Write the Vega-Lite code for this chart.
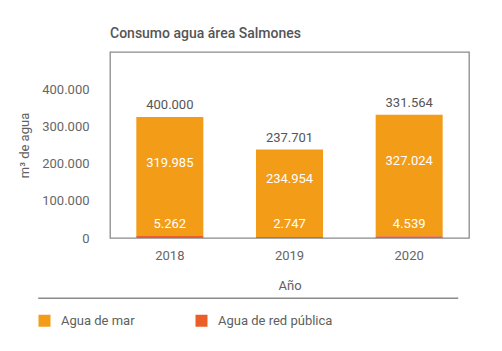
{
  "$schema": "https://vega.github.io/schema/vega-lite/v6.json",
  "padding": {"left": 18, "top": 27, "right": 5, "bottom": 5},
  "width": 359,
  "height": 186,
  "title": {"text": "Consumo agua área Salmones", "anchor": "start", "frame": "group", "font": "Roboto", "fontSize": 14, "fontWeight": 500, "color": "#555555", "offset": 11},
  "config": {
    "locale": {"number": {"decimal": ",", "thousands": ".", "grouping": [3], "currency": ["$", ""]}},
    "font": "Roboto",
    "view": {"stroke": "#8a8a8a", "strokeWidth": 1.3},
    "axis": {"labelFont": "Roboto", "titleFont": "Roboto", "labelFontSize": 13, "titleFontSize": 13, "labelColor": "#666666", "titleColor": "#606060", "titleFontWeight": "normal", "grid": false, "domain": false, "ticks": false},
    "legend": {"labelFont": "Roboto", "labelFontSize": 13, "labelColor": "#606060"}
  },
  "datasets": {
    "agua": [
      {"Año": "2018", "tipo": "Agua de mar", "valor": 319985},
      {"Año": "2018", "tipo": "Agua de red pública", "valor": 5262},
      {"Año": "2019", "tipo": "Agua de mar", "valor": 234954},
      {"Año": "2019", "tipo": "Agua de red pública", "valor": 2747},
      {"Año": "2020", "tipo": "Agua de mar", "valor": 327024},
      {"Año": "2020", "tipo": "Agua de red pública", "valor": 4539}
    ],
    "totales": [
      {"Año": "2018", "total": 325247, "rotulo": 400000},
      {"Año": "2019", "total": 237701, "rotulo": 237701},
      {"Año": "2020", "total": 331564, "rotulo": 331564}
    ],
    "separador": [
      {"desde": -0.2, "hasta": 0.97, "nivel": -162000}
    ]
  },
  "layer": [
    {
      "layer": [
        {
          "data": {"name": "agua"},
          "mark": {"type": "bar"},
          "encoding": {
            "x": {"field": "Año", "type": "nominal", "scale": {"paddingInner": 0.44, "paddingOuter": 0.22}, "axis": {"labelAngle": 0, "labelPadding": 11, "titlePadding": 17}},
            "y": {"field": "valor", "type": "quantitative", "stack": "zero", "scale": {"domain": [0, 465000]}, "axis": {"values": [0, 100000, 200000, 300000, 400000], "format": ",d", "title": "m³ de agua", "labelPadding": 21, "titlePadding": 10}},
            "color": {"field": "tipo", "type": "nominal", "scale": {"domain": ["Agua de mar", "Agua de red pública"], "range": ["#F39C18", "#EB5E28"]}, "legend": {"title": null, "orient": "none", "direction": "horizontal", "legendX": -72, "legendY": 262, "symbolType": "square", "symbolSize": 144, "symbolStrokeWidth": 0, "labelOffset": 10, "columnPadding": 60, "encode": {"symbols": {"update": {"fill": {"signal": "datum.value == 'Agua de mar' ? '#F9B04C' : '#EA5A24'"}, "opacity": {"value": 1}}}}}},
            "order": {"field": "tipo", "sort": "descending"}
          }
        },
        {
          "data": {"name": "agua"},
          "transform": [
            {"joinaggregate": [{"op": "sum", "field": "valor", "as": "suma"}], "groupby": ["Año"]},
            {"filter": "datum.tipo == 'Agua de mar'"},
            {"calculate": "datum.suma - datum.valor / 2", "as": "medio"}
          ],
          "mark": {"type": "text", "color": "white", "fontSize": 13, "baseline": "middle", "dy": -14},
          "encoding": {
            "x": {"field": "Año", "type": "nominal"},
            "y": {"field": "medio", "type": "quantitative"},
            "text": {"field": "valor", "type": "quantitative", "format": ",d"}
          }
        },
        {
          "data": {"name": "agua"},
          "transform": [{"filter": "datum.tipo == 'Agua de red pública'"}],
          "mark": {"type": "text", "color": "white", "fontSize": 13, "baseline": "middle", "dy": -14},
          "encoding": {
            "x": {"field": "Año", "type": "nominal"},
            "y": {"datum": 0},
            "text": {"field": "valor", "type": "quantitative", "format": ",d"}
          }
        },
        {
          "data": {"name": "totales"},
          "mark": {"type": "text", "color": "#555555", "fontSize": 13, "baseline": "middle", "dy": -12},
          "encoding": {
            "x": {"field": "Año", "type": "nominal"},
            "y": {"field": "total", "type": "quantitative"},
            "text": {"field": "rotulo", "type": "quantitative", "format": ",d"}
          }
        }
      ]
    },
    {
      "data": {"name": "separador"},
      "mark": {"type": "rule", "color": "#8a8a8a", "strokeWidth": 1.3, "clip": false},
      "encoding": {
        "x": {"field": "desde", "type": "quantitative", "scale": {"domain": [0, 1], "nice": false, "zero": false}, "axis": null},
        "x2": {"field": "hasta"},
        "y": {"field": "nivel", "type": "quantitative"}
      }
    }
  ],
  "resolve": {"scale": {"x": "independent"}, "axis": {"x": "independent"}}
}
